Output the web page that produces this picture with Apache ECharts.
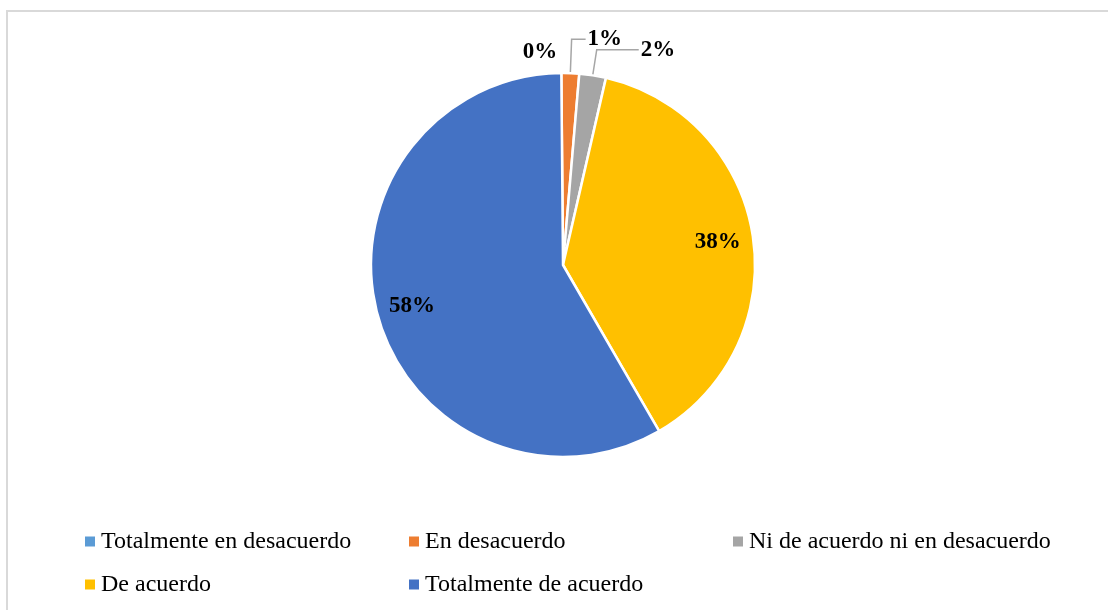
<!DOCTYPE html>
<html>
<head>
<meta charset="utf-8">
<script src="https://cdn.jsdelivr.net/npm/echarts@6/dist/echarts.min.js"></script>
<style>
  html, body { margin: 0; padding: 0; background: #fff; }
  #wrap { position: relative; width: 1108px; height: 610px; overflow: hidden; }
  #frame { position: absolute; left: 6px; top: 10px; width: 1120px; height: 620px;
           border-left: 2px solid #d9d9d9; border-top: 2px solid #d9d9d9; box-sizing: border-box; }
  #chart { position: absolute; left: 0; top: 0; width: 1108px; height: 610px; }
</style>
</head>
<body>
<div id="wrap">
  <div id="frame"></div>
  <div id="chart"></div>
</div>
<script>
const categories = [
  'Totalmente en desacuerdo',
  'En desacuerdo',
  'Ni de acuerdo ni en desacuerdo',
  'De acuerdo',
  'Totalmente de acuerdo'
];
const values = [0, 2, 3, 51, 78];
const colors = ['#5B9BD5', '#ED7D31', '#A5A5A5', '#FFC000', '#4472C4'];

// label line lengths for the small slices [length, length2]
const smallLines = [[21, 2], [34, 14], [26, 42]];

const font = "'Liberation Serif', 'Times New Roman', serif";
const pct = p => Math.round(p.percent) + '%';

const labelStyle = {
  fontFamily: font,
  fontSize: 23,
  fontWeight: 'bold',
  color: '#000'
};

const mainData = categories.map((name, i) => {
  const item = { name: name, value: values[i], itemStyle: { color: colors[i] } };
  if (i < 3) {
    item.label = { show: true, position: 'outside' };
    item.labelLine = {
      show: true,
      length: smallLines[i][0],
      length2: smallLines[i][1],
      lineStyle: { color: '#a6a6a6', width: 1.5, opacity: i === 0 ? 0 : 1 }
    };
  } else {
    item.label = { show: false };
    item.labelLine = { show: false };
  }
  return item;
});

const innerData = categories.map((name, i) => ({
  name: name,
  value: values[i],
  label: { show: i >= 3 }
}));

const chart = echarts.init(document.getElementById('chart'));
chart.setOption({
  animation: false,
  color: colors,
  legend: {
    left: 83,
    top: 525,
    width: 1000,
    padding: 0,
    orient: 'horizontal',
    icon: 'rect',
    itemWidth: 12,
    itemHeight: 12,
    itemGap: 10,
    data: categories.map((name, i) => ({ name: name, itemStyle: { color: colors[i] } })),
    textStyle: {
      fontFamily: font,
      fontSize: 24,
      color: '#000',
      width: 296,
      lineHeight: 33
    }
  },
  series: [
    {
      name: 'main',
      type: 'pie',
      center: [563, 265],
      radius: 192,
      startAngle: 90.5,
      clockwise: true,
      avoidLabelOverlap: false,
      itemStyle: { borderColor: '#fff', borderWidth: 2.5 },
      label: Object.assign({ formatter: pct, distanceToLabelLine: 2 }, labelStyle),
      emphasis: { disabled: true },
      data: mainData
    },
    {
      name: 'labels',
      type: 'pie',
      center: [563, 265],
      radius: [115, 192],
      startAngle: 90.5,
      clockwise: true,
      silent: true,
      avoidLabelOverlap: false,
      itemStyle: { color: 'transparent' },
      label: Object.assign({ position: 'inside', formatter: pct }, labelStyle),
      labelLine: { show: false },
      emphasis: { disabled: true },
      data: innerData
    }
  ]
});
</script>
</body>
</html>
